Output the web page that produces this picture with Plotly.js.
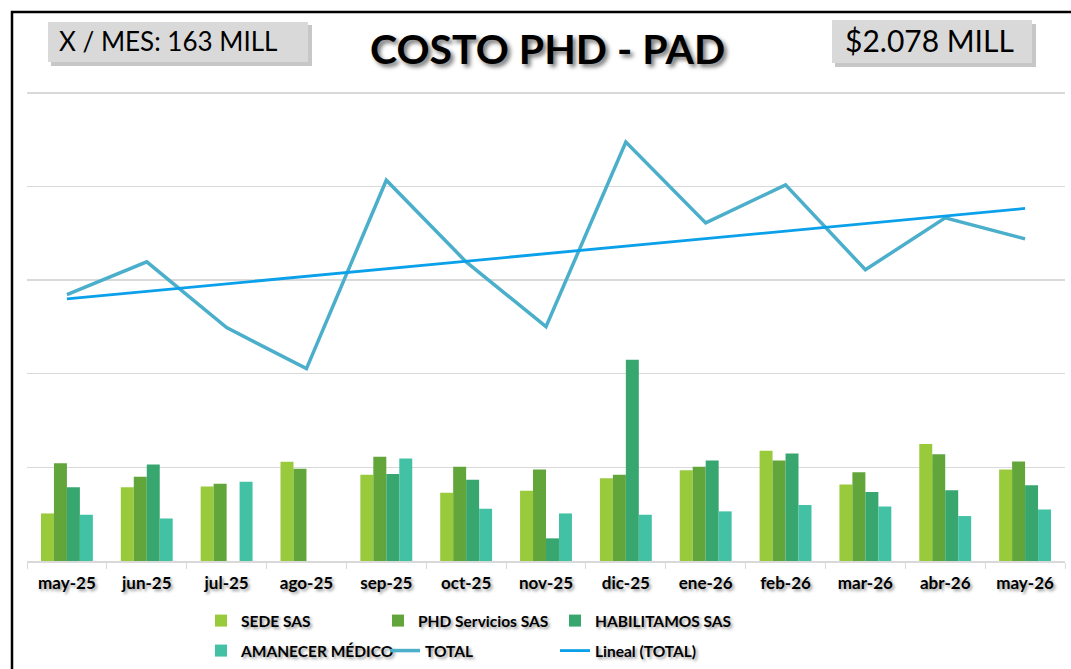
<!DOCTYPE html>
<html><head><meta charset="utf-8">
<script src="https://cdn.plot.ly/plotly-3.0.1.min.js"></script>
<style>html,body{margin:0;padding:0;background:#fff;} #chart{width:1071px;height:669px;}</style>
</head><body><div id="chart"></div>
<script>
const months = ['may-25','jun-25','jul-25','ago-25','sep-25','oct-25','nov-25','dic-25','ene-26','feb-26','mar-26','abr-26','may-26'];
const sedeSAS      = [25.4, 39.4, 39.8, 53.0, 46.0, 36.4, 37.5, 44.2, 48.5, 58.8, 40.9, 62.4, 48.9];
const phdServicios = [52.2, 45.0, 41.2, 49.2, 55.6, 50.3, 48.9, 46.0, 50.3, 53.7, 47.4, 57.0, 53.1];
const habilitamos  = [39.4, 51.5, null, null, 46.4, 43.4, 12.1, 107.5, 53.7, 57.4, 36.8, 37.8, 40.5];
const amanecer     = [24.7, 22.7, 42.3, null, 54.7, 27.9, 25.4, 24.7, 26.5, 29.9, 29.1, 24.0, 27.5];
const total        = [142.2, 159.7, 124.6, 102.7, 203.3, 159.7, 125.1, 223.7, 180.5, 200.8, 155.5, 183.2, 172.0];
const boxLeftText = 'X / MES: 163 MILL';
const boxRightText = '$2.078 MILL';
const titleText = 'COSTO PHD - PAD';

// Linear trendline (least squares) of TOTAL
const n = total.length;
const xs = total.map((_, i) => i);
const mx = xs.reduce((a, b) => a + b, 0) / n;
const my = total.reduce((a, b) => a + b, 0) / n;
let sxy = 0, sxx = 0;
for (let i = 0; i < n; i++) { sxy += (xs[i] - mx) * (total[i] - my); sxx += (xs[i] - mx) ** 2; }
const slope = sxy / sxx, icpt = my - slope * mx;
const trend = xs.map(x => icpt + slope * x);

const L = 27, R = 6, T = 89, B = 107.5, W = 1071, H = 669;
const pw = W - L - R, ph = H - T - B;
const px = v => (v - L) / pw;
const py = v => (H - B - v) / ph;
const cy = v => 1 - v / H;

const tf = {family: 'Lato, sans-serif', size: 17, color: '#000', weight: 'bold', shadow: '2px 2px 3px rgba(0,0,0,0.4)'};
const lf = {family: 'Lato, sans-serif', size: 15.5, color: '#000', weight: 'bold', shadow: '2px 2px 3px rgba(0,0,0,0.4)'};

const traces = [
  {type: 'bar', name: 'SEDE SAS', x: months, y: sedeSAS, marker: {color: '#99CA3C'}, legend: 'legend'},
  {type: 'bar', name: 'PHD Servicios SAS', x: months, y: phdServicios, marker: {color: '#62A53A'}, legend: 'legend'},
  {type: 'bar', name: 'HABILITAMOS SAS', x: months, y: habilitamos, marker: {color: '#37A76F'}, legend: 'legend3'},
  {type: 'bar', name: 'AMANECER MÉDICO', x: months, y: amanecer, marker: {color: '#43C1A5'}, legend: 'legend2'},
  {type: 'scatter', mode: 'lines', name: 'TOTAL', x: months, y: total, line: {color: '#4BAFCB', width: 3.5}, legend: 'legend2'},
  {type: 'scatter', mode: 'lines', name: 'Lineal (TOTAL)', x: months, y: trend, line: {color: '#0AA0EA', width: 2.8}, legend: 'legend4'}
];

const legBase = {orientation: 'h', xanchor: 'left', yanchor: 'top', yref: 'container', font: lf, traceorder: 'normal', bgcolor: 'rgba(0,0,0,0)', tracegroupgap: 0};
const layout = {
  width: W, height: H,
  margin: {l: L, r: R, t: T, b: B},
  paper_bgcolor: '#fff', plot_bgcolor: '#fff',
  barmode: 'group', bargap: 0.35, bargroupgap: 0,
  showlegend: true,
  xaxis: {type: 'category', showgrid: false, showline: true, linecolor: '#d9d9d9', linewidth: 1.5,
          ticks: 'outside', ticklen: 6, tickcolor: '#d9d9d9', tickson: 'boundaries',
          tickfont: tf, ticklabelstandoff: 6, fixedrange: true},
  yaxis: {range: [0, 252], dtick: 50, showticklabels: false, gridcolor: '#d9d9d9', gridwidth: 1.5,
          zeroline: false, fixedrange: true, showline: false},
  legend:  Object.assign({}, legBase, {x: px(201), y: cy(604), entrywidth: 132}),
  legend2: Object.assign({}, legBase, {x: px(201), y: cy(634), entrywidth: 139}),
  legend3: Object.assign({}, legBase, {x: px(555), y: cy(604)}),
  legend4: Object.assign({}, legBase, {x: px(555), y: cy(634)}),
  shapes: [
    {type: 'rect', xref: 'paper', yref: 'paper', x0: px(12), x1: px(1100), y0: py(12), y1: py(700), line: {color: '#000', width: 2.5}, fillcolor: 'rgba(0,0,0,0)', layer: 'above'},
    {type: 'rect', xref: 'paper', yref: 'paper', x0: px(51), x1: px(312), y0: py(25), y1: py(66), line: {width: 0}, fillcolor: 'rgba(0,0,0,0.22)'},
    {type: 'rect', xref: 'paper', yref: 'paper', x0: px(48), x1: px(308), y0: py(22), y1: py(62), line: {width: 0}, fillcolor: '#D9D9D9'},
    {type: 'rect', xref: 'paper', yref: 'paper', x0: px(835), x1: px(1036), y0: py(24), y1: py(67), line: {width: 0}, fillcolor: 'rgba(0,0,0,0.22)'},
    {type: 'rect', xref: 'paper', yref: 'paper', x0: px(832), x1: px(1032), y0: py(20), y1: py(63), line: {width: 0}, fillcolor: '#D9D9D9'}
  ],
  annotations: [
    {xref: 'paper', yref: 'paper', x: px(547), y: py(48), text: titleText, showarrow: false, xanchor: 'center', yanchor: 'middle',
     font: {family: 'Lato, sans-serif', size: 41, color: '#000', weight: 'bold', shadow: '3px 3px 4px rgba(0,0,0,0.55)'}},
    {xref: 'paper', yref: 'paper', x: px(168), y: py(41), text: boxLeftText, showarrow: false, xanchor: 'center', yanchor: 'middle',
     font: {family: 'Lato, sans-serif', size: 26, color: '#000'}},
    {xref: 'paper', yref: 'paper', x: px(929), y: py(40), text: boxRightText, showarrow: false, xanchor: 'center', yanchor: 'middle',
     font: {family: 'Lato, sans-serif', size: 30, color: '#000'}}
  ]
};

Plotly.newPlot('chart', traces, layout, {displayModeBar: false, staticPlot: true});
</script>
</body></html>
